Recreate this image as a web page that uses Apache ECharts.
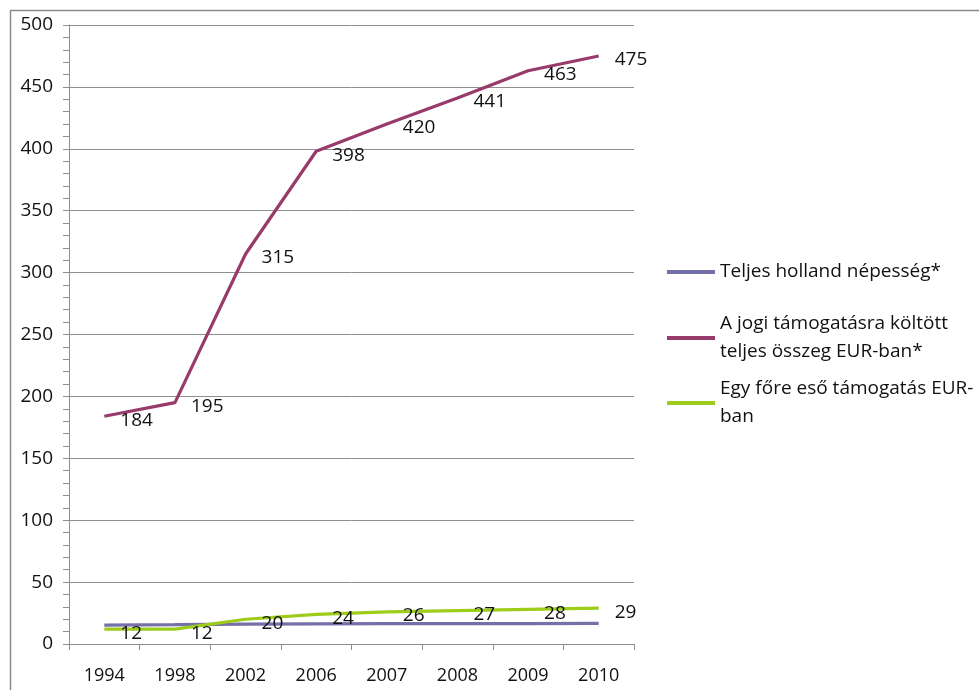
<!DOCTYPE html>
<html>
<head>
<meta charset="utf-8">
<script src="https://cdn.jsdelivr.net/npm/echarts@6/dist/echarts.min.js"></script>
<style>
  html, body { margin: 0; padding: 0; background: #fff; }
  #chart { width: 979px; height: 690px; }
</style>
</head>
<body>
<div id="chart"></div>
<script>
// Years on the category axis
const years = ['1994', '1998', '2002', '2006', '2007', '2008', '2009', '2010'];

// Series names
const namePopulation = 'Teljes holland népesség*';
const nameTotal = 'A jogi támogatásra költött teljes összeg EUR-ban*';
const namePerCapita = 'Egy főre eső támogatás EUR-ban';

// Dutch population (millions)
const population = [15.3, 15.6, 16.1, 16.3, 16.4, 16.4, 16.5, 16.6];
// Total legal aid spending (million EUR)
const totalSpending = [184, 195, 315, 398, 420, 441, 463, 475];
// Legal aid per capita (EUR)
const perCapita = [12, 12, 20, 24, 26, 27, 28, 29];

// Legend text with line breaks
const legendText = {};
legendText[namePopulation] = 'Teljes holland népesség*';
legendText[nameTotal] = 'A jogi támogatásra költött\nteljes összeg EUR-ban*';
legendText[namePerCapita] = 'Egy főre eső támogatás EUR-\nban';

const FONT = 'Open Sans';
const TEXT = '#111';
const GRID_COLOR = '#8f8f8f';

const chart = echarts.init(document.getElementById('chart'), null, { renderer: 'canvas' });

const valueLabel = {
  show: true,
  position: 'right',
  distance: 16,
  offset: [0, 4],
  color: TEXT,
  fontFamily: FONT,
  fontSize: 19
};

function legendBox(name, top, twoLines) {
  return {
    data: [name],
    left: 667,
    top: top,
    padding: 0,
    icon: 'rect',
    itemWidth: 48,
    itemHeight: 4,
    itemGap: 0,
    formatter: n => legendText[n],
    textStyle: {
      color: TEXT,
      fontFamily: FONT,
      fontSize: 19,
      lineHeight: 28,
      padding: twoLines ? [28, 0, 0, 0] : 0
    }
  };
}

function lineSeries(name, data, color, withLabels) {
  return {
    name: name,
    type: 'line',
    data: data,
    symbol: 'circle',
    symbolSize: 0,
    showSymbol: true,
    color: color,
    lineStyle: { width: 3.2, color: color },
    label: withLabels ? valueLabel : { show: false }
  };
}

chart.setOption({
  animation: false,
  backgroundColor: '#fff',
  graphic: [{
    type: 'rect',
    shape: { x: 10.5, y: 10.5, width: 1200, height: 1200 },
    style: { fill: 'none', stroke: '#8a8a8a', lineWidth: 1.5 },
    silent: true
  }],
  grid: { left: 69, right: 345, top: 25, bottom: 46 },
  legend: [
    legendBox(namePopulation, 258, false),
    legendBox(nameTotal, 296, true),
    legendBox(namePerCapita, 361, true)
  ],
  xAxis: {
    type: 'category',
    data: years,
    boundaryGap: true,
    axisLine: { lineStyle: { color: GRID_COLOR, width: 1 } },
    axisTick: { show: true, length: 6, interval: 0, lineStyle: { color: GRID_COLOR } },
    axisLabel: { color: TEXT, fontFamily: FONT, fontSize: 18, margin: 23, interval: 0 }
  },
  yAxis: {
    type: 'value',
    min: 0,
    max: 500,
    interval: 50,
    axisLine: { show: true, lineStyle: { color: GRID_COLOR, width: 1 } },
    axisTick: { show: true, length: 6, lineStyle: { color: GRID_COLOR } },
    minorTick: { show: true, splitNumber: 5, length: 6, lineStyle: { color: GRID_COLOR } },
    splitLine: { show: true, lineStyle: { color: GRID_COLOR, width: 1 } },
    axisLabel: { color: TEXT, fontFamily: FONT, fontSize: 19, margin: 16 }
  },
  series: [
    lineSeries(namePopulation, population, '#7470a8', false),
    lineSeries(nameTotal, totalSpending, '#983a6a', true),
    lineSeries(namePerCapita, perCapita, '#9dcc1a', true)
  ]
});
</script>
</body>
</html>
